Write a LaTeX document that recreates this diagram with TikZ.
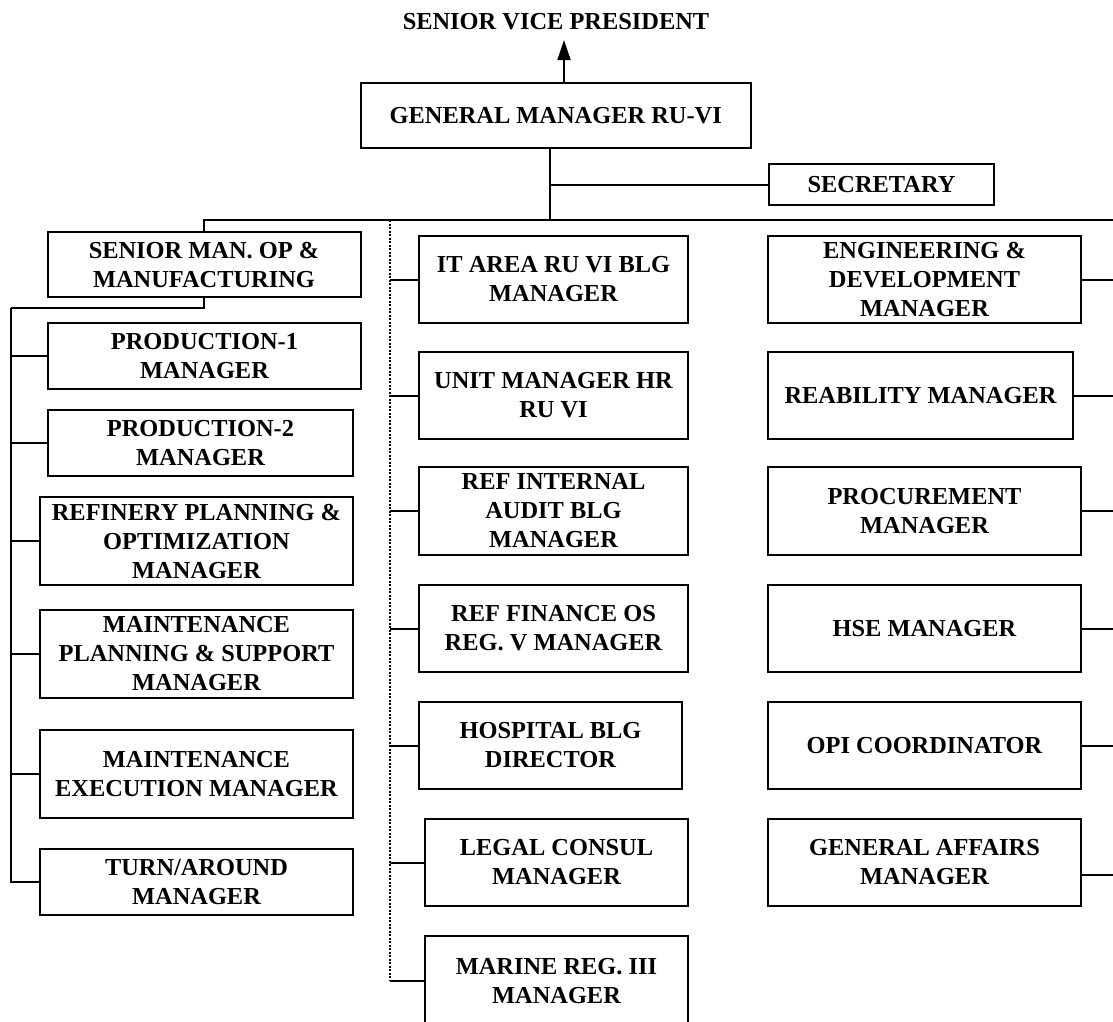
\documentclass[tikz,border=0pt]{standalone}
\usepackage{fontspec}
\setmainfont{Liberation Serif}
\usetikzlibrary{arrows.meta}
\begin{document}
\begin{tikzpicture}[x=1pt,y=1pt,
  box/.style={draw, line width=2pt, inner sep=0pt, outer sep=0pt, align=center,
    font=\fontsize{24.4}{29}\selectfont\bfseries},
  conn/.style={line width=2pt},
  dotconn/.style={line width=1.3pt, dash pattern=on 2pt off 1.5pt}]
\useasboundingbox (0,0) rectangle (1113,-1021);
\fill[white] (0,0) rectangle (1113,-1021);

% top
\node[font=\fontsize{24.4}{29}\selectfont\bfseries] (svp) at (556,-22) {SENIOR VICE PRESIDENT};
\node[box, minimum width=390.5pt, minimum height=65pt] (gm) at (555.75,-115.5) {GENERAL MANAGER RU-VI};
\node[box, minimum width=225pt, minimum height=41pt] (sec) at (881.5,-184.5) {SECRETARY};

% left column
\node[box, minimum width=313pt, minimum height=65pt] (sm) at (204,-264.5) {SENIOR MAN. OP \&\\MANUFACTURING};
\node[box, minimum width=313pt, minimum height=66pt] (p1) at (204.5,-356) {PRODUCTION-1\\MANAGER};
\node[box, minimum width=305pt, minimum height=66pt] (p2) at (200.5,-443) {PRODUCTION-2\\MANAGER};
\node[box, minimum width=313pt, minimum height=88pt] (rp) at (196.5,-541) {REFINERY PLANNING \&\\OPTIMIZATION\\MANAGER};
\node[box, minimum width=313pt, minimum height=88pt] (mp) at (196.5,-654) {MAINTENANCE\\PLANNING \& SUPPORT\\MANAGER};
\node[box, minimum width=313pt, minimum height=88pt] (me) at (196.5,-774) {MAINTENANCE\\EXECUTION MANAGER};
\node[box, minimum width=313pt, minimum height=66pt] (ta) at (196.5,-882) {TURN/AROUND\\MANAGER};

% middle column
\node[box, minimum width=269pt, minimum height=87pt] (it) at (553.5,-279.5) {IT AREA RU VI BLG\\MANAGER};
\node[box, minimum width=269pt, minimum height=87pt] (hr) at (553.5,-395.5) {UNIT MANAGER HR\\RU VI};
\node[box, minimum width=269pt, minimum height=88pt] (ia) at (553.5,-511) {REF INTERNAL\\AUDIT BLG\\MANAGER};
\node[box, minimum width=269pt, minimum height=87pt] (fi) at (553.5,-628.5) {REF FINANCE OS\\REG. V MANAGER};
\node[box, minimum width=263pt, minimum height=87pt] (ho) at (550.5,-745.5) {HOSPITAL BLG\\DIRECTOR};
\node[box, minimum width=263pt, minimum height=87pt] (lc) at (556.5,-862.5) {LEGAL CONSUL\\MANAGER};
\node[box, minimum width=263pt, minimum height=90pt] (ma) at (556.5,-981) {MARINE REG. III\\MANAGER};

% right column
\node[box, minimum width=313pt, minimum height=87pt] (en) at (924.5,-279.5) {ENGINEERING \&\\DEVELOPMENT\\MANAGER};
\node[box, minimum width=305pt, minimum height=87pt] (rb) at (920.5,-395.5) {REABILITY MANAGER};
\node[box, minimum width=313pt, minimum height=88pt] (pr) at (924.5,-511) {PROCUREMENT\\MANAGER};
\node[box, minimum width=313pt, minimum height=87pt] (hs) at (924.5,-628.5) {HSE MANAGER};
\node[box, minimum width=313pt, minimum height=87pt] (op) at (924.5,-745.5) {OPI COORDINATOR};
\node[box, minimum width=313pt, minimum height=87pt] (ga) at (924.5,-862.5) {GENERAL AFFAIRS\\MANAGER};

% coordinates
\coordinate (tip) at (564,-40);
\coordinate (j) at (550,-220);
\coordinate (busR) at (1122,-220);
\coordinate (lt) at (11,-308);
\coordinate (dv) at (390,-220);

% connectors
\draw[conn, -{Triangle[length=20pt,width=13pt]}] (gm.north -| tip) -- (tip);
\draw[conn] (gm.south -| j) -- (j);
\draw[conn] (sec.west) -- (sec.west -| j);
\draw[conn] (sm.north) -- (sm.north |- j) -- (busR);

% left branch
\draw[conn] (sm.south) |- (lt);
\draw[conn] (lt) |- (ta.west);
\foreach \n in {p1,p2,rp,mp,me}
  \draw[conn] (lt |- \n.west) -- (\n.west);

% middle branch (dotted trunk)
\draw[dotconn] (dv) -- (dv |- ma.west);
\foreach \n in {it,hr,ia,fi,ho,lc,ma}
  \draw[conn] (dv |- \n.west) -- (\n.west);

% right branch
\draw[conn] (busR) -- (busR |- ga.east);
\foreach \n in {en,rb,pr,hs,op}
  \draw[conn] (\n.east) -- (\n.east -| busR);
\draw[conn] ([yshift=-12.5pt]ga.east) -- ([yshift=-12.5pt]ga.east -| busR);
\end{tikzpicture}
\end{document}
